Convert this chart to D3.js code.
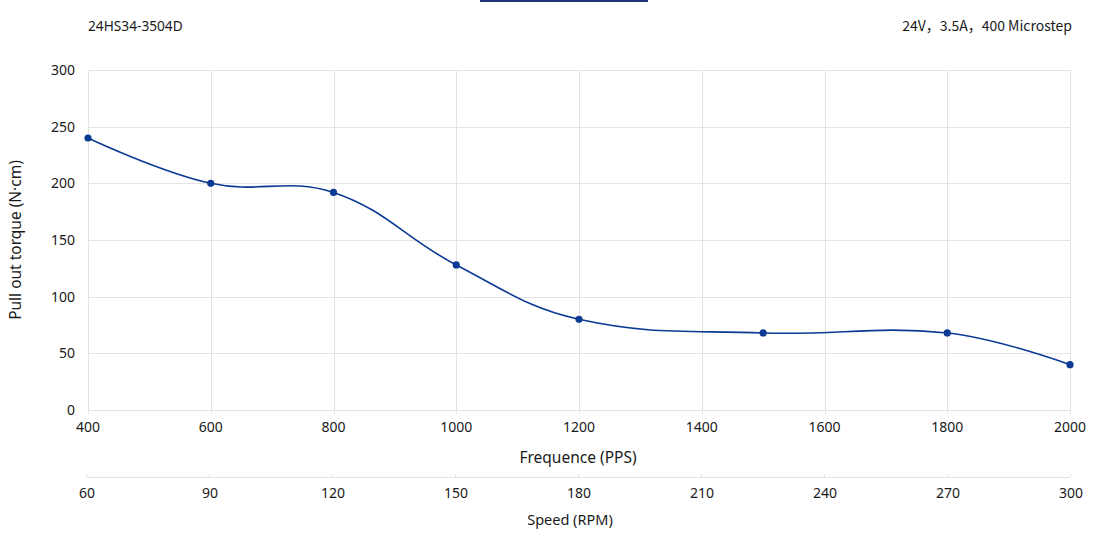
<!DOCTYPE html>
<html>
<head>
<meta charset="utf-8">
<script src="https://cdn.jsdelivr.net/npm/d3@7"></script>
<style>
  html, body { margin: 0; padding: 0; background: #fff; }
  svg { display: block; font-family: "Noto Sans", "Noto Sans CJK SC", "Open Sans", sans-serif; }
</style>
</head>
<body>
<svg id="chart" width="1106" height="543"></svg>
<script>
// ---- data ----
const frequency = [400, 600, 800, 1000, 1200, 1500, 1800, 2000];
const torque = [240, 200, 192, 128, 80, 68, 68, 40];
const freqTicks = [400, 600, 800, 1000, 1200, 1400, 1600, 1800, 2000];
const speedTicks = [60, 90, 120, 150, 180, 210, 240, 270, 300];
const torqueTicks = [0, 50, 100, 150, 200, 250, 300];
const titleLeft = "24HS34-3504D";
const titleRight = "24V，3.5A，400 Microstep";
const xLabel = "Frequence (PPS)";
const x2Label = "Speed (RPM)";
const yLabel = "Pull out torque (N·cm)";

const svg = d3.select("#chart");
const pL = 88, pR = 1070, pT = 70, pB = 410;

const x = d3.scaleLinear().domain([400, 2000]).range([pL, pR]);
const x2 = d3.scaleLinear().domain([60, 300]).range([pL - 2, pR]);
const y = d3.scaleLinear().domain([0, 300]).range([pB, pT]);

const grid = "#e3e3e3";
const textCol = "#1a1a1a";
const lineCol = "#0b3a94";

// top accent bar
svg.append("rect").attr("x", 480).attr("y", 0).attr("width", 168).attr("height", 2).attr("fill", "#1c3474");

// titles
svg.append("text").attr("x", pL).attr("y", 31).attr("font-size", 13.7).attr("fill", textCol).text(titleLeft);
svg.append("text").attr("x", pR + 2).attr("y", 31).attr("font-size", 14).attr("fill", textCol)
  .attr("font-family", "'Noto Sans CJK SC', 'Noto Sans', sans-serif")
  .attr("text-anchor", "end").text(titleRight);

// horizontal gridlines
svg.append("g").selectAll("line").data(torqueTicks).join("line")
  .attr("x1", pL).attr("x2", pR)
  .attr("y1", d => Math.round(y(d)) + 0.5).attr("y2", d => Math.round(y(d)) + 0.5)
  .attr("stroke", grid).attr("stroke-width", 1);

// vertical gridlines
svg.append("g").selectAll("line").data(freqTicks).join("line")
  .attr("x1", d => Math.round(x(d)) + 0.5).attr("x2", d => Math.round(x(d)) + 0.5)
  .attr("y1", pT).attr("y2", pB + 4)
  .attr("stroke", grid).attr("stroke-width", 1);

// y tick labels
svg.append("g").selectAll("text").data(torqueTicks).join("text")
  .attr("x", 75).attr("y", d => y(d)).attr("dy", "0.35em")
  .attr("text-anchor", "end").attr("font-size", 14).attr("fill", textCol)
  .text(d => d);

// x tick labels
svg.append("g").selectAll("text").data(freqTicks).join("text")
  .attr("x", d => x(d)).attr("y", 427).attr("dy", "0.35em")
  .attr("text-anchor", "middle").attr("font-size", 14).attr("fill", textCol)
  .text(d => d);

svg.append("text").attr("x", (pL + pR) / 2 - 1).attr("y", 458).attr("dy", "0.35em")
  .attr("text-anchor", "middle").attr("font-size", 15.5).attr("fill", textCol).text(xLabel);

// second x axis (speed)
const ax2y = 477;
svg.append("line").attr("x1", x2(60)).attr("x2", x2(300)).attr("y1", ax2y + 0.5).attr("y2", ax2y + 0.5)
  .attr("stroke", grid).attr("stroke-width", 1.2);
svg.append("g").selectAll("line").data(speedTicks).join("line")
  .attr("x1", d => Math.round(x2(d)) + 0.5).attr("x2", d => Math.round(x2(d)) + 0.5)
  .attr("y1", ax2y - 3).attr("y2", ax2y)
  .attr("stroke", grid).attr("stroke-width", 1);
svg.append("g").selectAll("text").data(speedTicks).join("text")
  .attr("x", d => x2(d) + 1).attr("y", 493).attr("dy", "0.35em")
  .attr("text-anchor", "middle").attr("font-size", 14).attr("fill", textCol)
  .text(d => d);
svg.append("text").attr("x", (pL + pR) / 2 - 9).attr("y", 520).attr("dy", "0.35em")
  .attr("text-anchor", "middle").attr("font-size", 14.5).attr("fill", textCol).text(x2Label);

// y axis label
svg.append("text").attr("transform", `translate(16,${(pT + pB) / 2}) rotate(-90)`)
  .attr("dy", "0.35em").attr("text-anchor", "middle").attr("font-size", 15.5).attr("fill", textCol)
  .text(yLabel);

// smooth line (bezier smoothing, tangent parallel to neighbour chord)
const pts = frequency.map((f, i) => [x(f), y(torque[i])]);
function smoothPath(points, smooth) {
  const p = d3.path();
  p.moveTo(points[0][0], points[0][1]);
  let cp0x = points[0][0], cp0y = points[0][1];
  const n = points.length;
  for (let k = 1; k < n; k++) {
    const [px, py] = points[k - 1];
    const [cx, cy] = points[k];
    let cp1x, cp1y, ncx = cx, ncy = cy;
    if (k === n - 1) {
      cp1x = cx; cp1y = cy;
    } else {
      const [nx, ny] = points[k + 1];
      const vx = (nx - px) * smooth, vy = (ny - py) * smooth;
      const lp = Math.hypot(cx - px, cy - py);
      const ln = Math.hypot(nx - cx, ny - cy);
      const r = ln / (ln + lp);
      ncx = cx + vx * r; ncy = cy + vy * r;
      cp1x = cx - vx * (1 - r); cp1y = cy - vy * (1 - r);
    }
    p.bezierCurveTo(cp0x, cp0y, cp1x, cp1y, cx, cy);
    cp0x = ncx; cp0y = ncy;
  }
  return p.toString();
}
svg.append("path").attr("d", smoothPath(pts, 0.4))
  .attr("fill", "none").attr("stroke", lineCol).attr("stroke-width", 1.6);

svg.append("g").selectAll("circle").data(frequency).join("circle")
  .attr("cx", d => x(d)).attr("cy", (d, i) => y(torque[i])).attr("r", 3.6)
  .attr("fill", lineCol);
</script>
</body>
</html>
